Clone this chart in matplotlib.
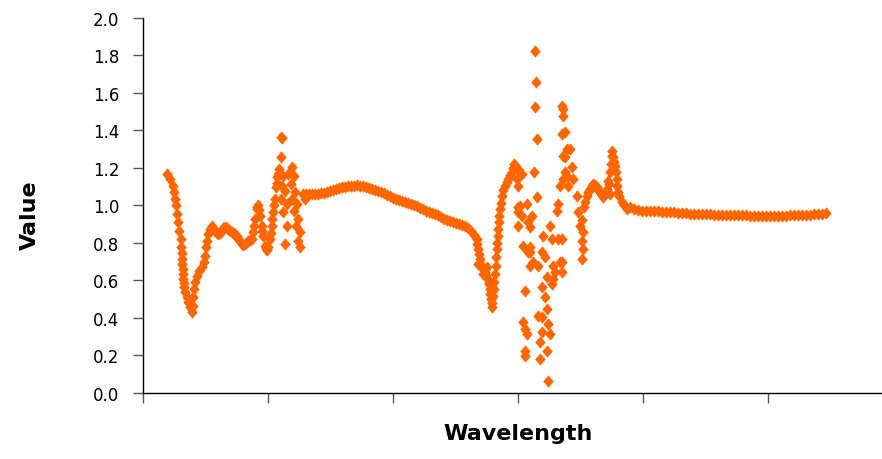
import matplotlib
matplotlib.use("Agg")
import matplotlib.pyplot as plt

# first dip and the bumps after it
dip1_x = [19.4, 21.6, 23.8, 24.8, 25.6, 26.4, 27.4, 28.2, 29.0, 30.2, 30.6, 30.9, 31.2, 31.4, 31.8,
          32.0, 32.2, 32.6, 32.8, 33.8, 35.0, 36.2, 37.6, 39.0, 39.8, 40.2, 40.8, 41.6, 43.0,
          45.0, 47.0, 48.8, 49.6, 50.4, 51.0, 52.2, 53.6, 55.0, 56.2, 57.6, 58.9, 60.2, 61.6,
          62.9, 64.3, 65.6, 66.9, 68.2, 69.6, 71.0, 72.2, 73.6, 74.9, 76.2, 77.6, 79.0, 80.2,
          81.6, 82.9, 84.2, 85.6, 87.0]
dip1_y = [1.168, 1.14, 1.106, 1.07, 1.035, 1.0, 0.955, 0.91, 0.866, 0.82, 0.777, 0.745, 0.715, 0.69, 0.66,
          0.635, 0.608, 0.585, 0.564, 0.537, 0.51, 0.484, 0.457, 0.434, 0.466, 0.51, 0.555, 0.59, 0.626,
          0.652, 0.67, 0.697, 0.732, 0.777, 0.812, 0.848, 0.875, 0.892, 0.88, 0.866, 0.855, 0.848, 0.855,
          0.866, 0.878, 0.884, 0.882, 0.875, 0.866, 0.857, 0.852, 0.848, 0.835, 0.821, 0.808, 0.795, 0.79,
          0.795, 0.803, 0.812, 0.815, 0.821]

peak1_x = [88.2, 88.8, 89.6, 91.0, 91.6, 92.2, 92.8, 93.6, 94.9, 95.6, 96.2, 97.6, 98.4, 99.4,
           100.4, 101.6, 102.4, 102.9, 103.6, 104.2, 104.9, 105.6, 106.4, 107.2, 107.4, 108.2,
           109.0, 110.2, 111.0]
peak1_y = [0.857, 0.89, 0.928, 0.981, 0.99, 1.0, 0.975, 0.946, 0.892, 0.865, 0.839, 0.786, 0.77, 0.76,
           0.78, 0.821, 0.855, 0.892, 0.93, 0.964, 1.0, 1.035, 1.097, 1.12, 1.15, 1.17,
           1.195, 1.257, 1.36]

# scattered points around the first spike
spike1_x = [110.4, 112.2, 111.4, 113.6, 110.8, 114.9, 112.2, 114.9, 113.6, 119.4, 116.2, 121.0,
            118.4, 121.6, 119.4, 123.0, 121.0, 124.2, 122.2, 125.6, 124.2, 125.6, 129.6]
spike1_y = [1.364, 1.159, 1.106, 1.079, 1.035, 1.008, 0.964, 0.892, 0.795, 1.204, 1.168, 1.159,
            1.115, 1.07, 1.035, 1.008, 0.972, 0.928, 0.892, 0.857, 0.812, 0.777, 1.035]

# smooth middle section
mid_x = [128.0, 130.4, 132.8, 135.2, 137.6, 140.0, 142.4, 144.8, 147.2, 149.6,
         152.0, 154.4, 156.8, 159.2, 161.6, 164.0, 166.4, 168.8, 171.2, 173.6,
         176.0, 178.4, 180.8, 183.2, 185.6, 188.0, 190.4, 192.8, 195.2, 197.6,
         200.0, 202.4, 204.8, 207.2, 209.6, 212.0, 214.4, 216.8, 219.2, 221.6,
         224.0, 226.4, 228.8, 231.2, 233.6, 236.0, 238.4, 240.8, 243.2, 245.6,
         248.0, 250.4, 252.8, 255.2, 257.6, 260.0, 262.4]
mid_y = [1.06, 1.06, 1.06, 1.06, 1.06, 1.062, 1.065, 1.068, 1.072, 1.078,
         1.083, 1.088, 1.092, 1.096, 1.099, 1.102, 1.105, 1.106, 1.107, 1.106,
         1.103, 1.098, 1.093, 1.087, 1.082, 1.077, 1.071, 1.064, 1.056, 1.048,
         1.040, 1.033, 1.027, 1.022, 1.017, 1.012, 1.006, 1.000, 0.995, 0.989,
         0.981, 0.973, 0.965, 0.959, 0.953, 0.947, 0.938, 0.930, 0.922, 0.916,
         0.911, 0.906, 0.901, 0.895, 0.888, 0.878, 0.862]

# second dip
dip2_x = [264.8, 266.9, 267.6, 268.2, 269.0, 269.6, 270.9, 272.0, 273.6, 274.8, 276.2, 276.8,
          277.6, 278.0, 278.4, 278.9, 279.6, 280.2, 280.6, 281.0, 281.6, 282.2, 282.6, 283.0,
          283.4, 283.8, 284.2, 284.8, 285.2, 285.6, 286.2, 286.9, 287.9, 289.6, 290.9, 292.2,
          293.6, 294.9, 296.0, 297.0, 268.0, 272.0, 275.2, 276.8]
dip2_y = [0.84, 0.821, 0.795, 0.768, 0.74, 0.715, 0.679, 0.66, 0.644, 0.63, 0.608, 0.58,
          0.555, 0.53, 0.501, 0.457, 0.48, 0.519, 0.555, 0.59, 0.635, 0.679, 0.725, 0.768,
          0.8, 0.839, 0.875, 0.91, 0.945, 0.981, 1.015, 1.052, 1.085, 1.106, 1.125, 1.141,
          1.16, 1.176, 1.2, 1.221, 0.688, 0.635, 0.672, 0.592]

# wide scatter of the second spike
spike2_x = [300.2, 302.9, 300.2, 300.2, 302.9, 300.2, 308.2, 304.2, 309.6, 305.6,
            313.6, 314.4, 313.6, 315.0, 312.8, 315.4, 298.9, 301.6, 306.9, 300.2,
            310.9, 309.6, 309.6, 308.2, 312.2, 309.6, 320.2, 326.9, 332.2, 325.6,
            318.9, 321.6, 316.2, 328.2, 333.6, 329.6, 322.9, 328.2, 326.9, 318.9,
            321.6, 322.9, 316.2, 318.9, 305.6, 324.2, 318.9, 325.6, 317.6, 305.6,
            322.9, 305.6, 317.6, 324.2, 332.2, 330.9, 333.6, 336.2, 337.6, 336.2,
            339.4, 335.4, 336.2, 335.4, 336.2, 304.0, 307.2]
spike2_y = [1.195, 1.168, 1.106, 0.99, 0.946, 0.892, 0.91, 0.786, 0.75, 0.546,
            1.826, 1.657, 1.524, 1.355, 1.177, 1.044, 1.141, 0.999, 1.008, 0.964,
            0.946, 0.884, 0.777, 0.75, 0.697, 0.679, 0.839, 0.821, 0.821, 0.892,
            0.75, 0.723, 0.679, 0.679, 0.697, 0.644, 0.617, 0.608, 0.581, 0.564,
            0.51, 0.448, 0.412, 0.403, 0.341, 0.368, 0.324, 0.315, 0.27, 0.226,
            0.226, 0.199, 0.181, 0.066, 1.008, 0.972, 1.106, 1.141, 1.177, 1.266,
            1.301, 1.381, 1.515, 1.532, 1.479, 0.38, 0.315]

spike3_x = [337.6, 341.6, 337.6, 342.9, 339.4, 344.2, 340.2, 346.9, 348.2, 350.9,
            349.6, 352.2, 350.9, 352.2, 350.9, 335.4, 335.4, 335.4]
spike3_y = [1.39, 1.301, 1.257, 1.204, 1.159, 1.141, 1.106, 1.052, 0.964, 0.92,
            0.892, 0.857, 0.812, 0.768, 0.715, 0.821, 0.697, 0.644]

# last bumps
bump_x = [352.8, 353.6, 355.0, 356.2, 357.6, 359.0, 360.2, 361.6, 363.0, 364.2, 365.6, 366.9,
          368.2, 369.6, 371.0, 372.2, 373.2, 373.6, 374.0, 374.2, 375.0, 375.0, 376.2, 376.8,
          377.6, 378.4, 379.0, 379.6, 380.2, 381.2, 382.9, 384.8, 386.9]
bump_y = [0.99, 1.017, 1.052, 1.07, 1.088, 1.103, 1.115, 1.11, 1.097, 1.085, 1.07, 1.056,
          1.044, 1.06, 1.088, 1.13, 1.115, 1.177, 1.06, 1.22, 1.266, 1.293, 1.26, 1.23,
          1.213, 1.18, 1.141, 1.105, 1.07, 1.05, 1.017, 1.0, 0.981]

# flat tail
tail_x = [389.6, 392.8, 396.0, 399.2, 402.4, 405.6, 408.8, 412.0, 415.2, 418.4,
          421.6, 424.8, 428.0, 431.2, 434.4, 437.6, 440.8, 444.0, 447.2, 450.4,
          453.6, 456.8, 460.0, 463.2, 466.4, 469.6, 472.8, 476.0, 479.2, 482.4,
          485.6, 488.8, 492.0, 495.2, 498.4, 501.6, 504.8, 508.0, 511.2, 514.4,
          517.6, 520.8, 524.0, 527.2, 530.4, 533.6, 536.8, 540.0, 543.2, 546.4]
tail_y = [0.99, 0.982, 0.977, 0.973, 0.971, 0.970, 0.969, 0.968, 0.967, 0.966,
          0.965, 0.964, 0.962, 0.960, 0.958, 0.957, 0.956, 0.955, 0.954, 0.953,
          0.952, 0.951, 0.950, 0.949, 0.949, 0.948, 0.948, 0.947, 0.947, 0.947,
          0.946, 0.946, 0.946, 0.946, 0.946, 0.946, 0.946, 0.946, 0.946, 0.946,
          0.947, 0.947, 0.948, 0.949, 0.950, 0.951, 0.953, 0.955, 0.957, 0.960]

wl = dip1_x + peak1_x + spike1_x + mid_x + dip2_x + spike2_x + spike3_x + bump_x + tail_x
val = dip1_y + peak1_y + spike1_y + mid_y + dip2_y + spike2_y + spike3_y + bump_y + tail_y

diamond = [(0, 1), (0.85, 0), (0, -1), (-0.85, 0), (0, 1)]

fig = plt.figure(figsize=(8.82, 4.6), dpi=100)
ax = fig.add_axes([0.162, 0.1435, 0.838, 0.8152])

ax.plot(wl, val, ls="none", marker=diamond, ms=8.2, mew=0.4,
        color="#FF6600", mec="#FF6600")

ax.set_xlim(0, 591.2)
ax.set_ylim(0, 2.0)
ax.set_xticks([0, 100, 200, 300, 400, 500])
ax.set_xticklabels([])
ax.set_yticks([i * 0.2 for i in range(11)])
ax.set_yticklabels([f"{i * 0.2:.1f}" for i in range(11)], fontsize=12)
ax.tick_params(axis="both", direction="out", length=7, width=1, color="#555555")
ax.tick_params(axis="y", pad=10)

for side in ["top", "right"]:
    ax.spines[side].set_visible(False)
for side in ["left", "bottom"]:
    ax.spines[side].set_linewidth(1.0)
    ax.spines[side].set_color("black")

ax.set_xlabel("Wavelength", fontsize=16, fontweight="bold")
ax.set_ylabel("Value", fontsize=16, fontweight="bold")
ax.xaxis.set_label_coords(0.507, -0.08)
ax.yaxis.set_label_coords(-0.14, 0.477)

fig.savefig("out.png", dpi=100)
